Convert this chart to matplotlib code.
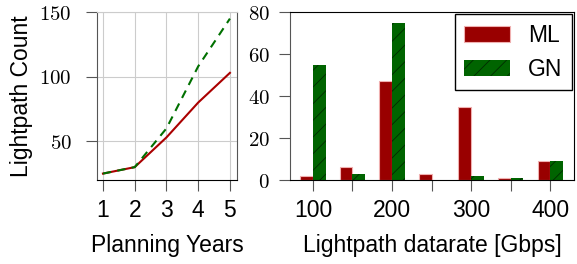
import numpy as np
import matplotlib
matplotlib.use("Agg")
import matplotlib.pyplot as plt
from matplotlib.ticker import FuncFormatter

# data
years = [1, 2, 3, 4, 5]
ml_count = [25, 30, 53, 80, 103]
gn_count = [25, 30, 60, 108, 145]

rates = [100, 150, 200, 250, 300, 350, 400]
ml_rates = [2, 6, 47, 3, 35, 1, 9]
gn_rates = [55, 3, 75, 0, 2, 1, 9]

red = "#990000"
green = "#006400"

plt.rcParams["font.family"] = "Liberation Sans"
plt.rcParams["mathtext.fontset"] = "cm"
plt.rcParams["font.size"] = 16.5
plt.rcParams["hatch.linewidth"] = 0.6

fig = plt.figure(figsize=(5.77, 2.64), dpi=100)
serif = FuncFormatter(lambda v, p: "$%d$" % v)

# left: lightpath count per planning year
ax1 = fig.add_axes([0.168, 0.318, 0.2426, 0.636])
ax1.plot(years, ml_count, color="#aa0000", lw=1.5, zorder=3)
ax1.plot(years, gn_count, color="#007000", lw=1.5, ls=(0, (4, 3)), zorder=3)
ax1.set_xlim(0.81, 5.22)
ax1.set_ylim(20, 150)
ax1.set_xticks(years)
ax1.set_yticks([50, 100, 150])
ax1.yaxis.set_major_formatter(serif)
ax1.grid(True, color="#cccccc", lw=0.8)
ax1.set_axisbelow(True)
ax1.set_xlabel("Planning Years", labelpad=8)
ax1.set_ylabel("Lightpath Count", labelpad=5)
ax1.spines["top"].set_color("#cccccc")
ax1.spines["left"].set_color("#555555")
ax1.spines["right"].set_color("#555555")
ax1.tick_params(axis="both", length=8, color="#555555", width=0.8)
ax1.tick_params(axis="x", pad=6)
ax1.tick_params(axis="y", pad=10, labelsize=15)

# right: lightpath datarate histogram
ax2 = fig.add_axes([0.5026, 0.318, 0.492, 0.636])
x = np.array(rates)
w = 16
ax2.bar(x - w / 2, ml_rates, width=w, color=red, edgecolor="#f0b0b0", lw=0.8, label="ML")
ax2.bar(x + w / 2, gn_rates, width=w, color=green, edgecolor="#002a00", lw=0, hatch="//", label="GN")
ax2.set_xlim(71, 430)
ax2.set_ylim(0, 80)
ax2.set_xticks([100, 200, 300, 400])
ax2.set_xticks([150, 250, 350], minor=True)
ax2.set_yticks([0, 20, 40, 60, 80])
ax2.yaxis.set_major_formatter(serif)
ax2.set_xlabel("Lightpath datarate [Gbps]", labelpad=8)
ax2.spines["left"].set_color("#555555")
ax2.tick_params(axis="both", which="both", length=8, color="#555555", width=0.8)
ax2.tick_params(axis="x", pad=6)
ax2.tick_params(axis="y", pad=6.5, labelsize=15)
leg = ax2.legend(loc="upper right", fancybox=False, edgecolor="black", framealpha=1,
                 handlelength=2, handleheight=0.7, borderaxespad=0.1, fontsize=16.5,
                 labelspacing=0.5)
leg.get_frame().set_linewidth(1.0)

fig.savefig("out.png", dpi=100)
